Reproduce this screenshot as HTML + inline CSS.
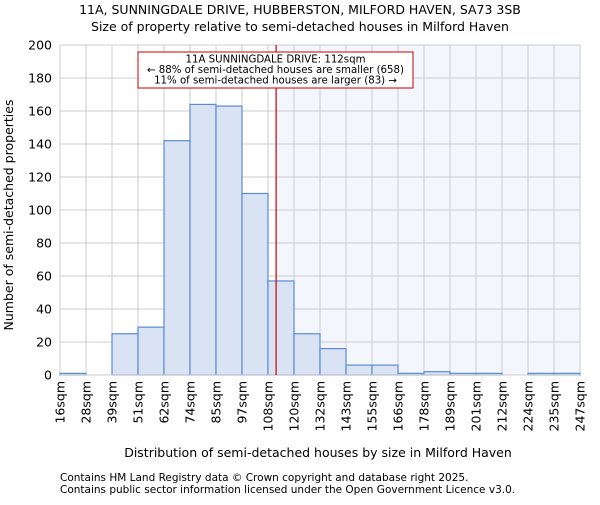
<!DOCTYPE html>
<html><head><meta charset="utf-8"><style>
body{margin:0;background:#fff;}
svg{font-family:"DejaVu Sans","Liberation Sans",sans-serif;}
</style></head><body>
<svg id="chart" width="600" height="500" xmlns="http://www.w3.org/2000/svg">
<text x="300" y="14" text-anchor="middle" font-size="12.5">11A, SUNNINGDALE DRIVE, HUBBERSTON, MILFORD HAVEN, SA73 3SB</text>
<text x="300" y="31" text-anchor="middle" font-size="12.5">Size of property relative to semi-detached houses in Milford Haven</text>
<g id="grid"></g><g id="bars"></g><g id="axes"></g>
<text x="318" y="457" text-anchor="middle" font-size="12.5">Distribution of semi-detached houses by size in Milford Haven</text>
<text transform="translate(13,215) rotate(-90)" text-anchor="middle" font-size="12.5">Number of semi-detached properties</text>
<text x="60" y="481" font-size="10.5">Contains HM Land Registry data © Crown copyright and database right 2025.</text>
<text x="60" y="493" font-size="10.5">Contains public sector information licensed under the Open Government Licence v3.0.</text>
</svg>
<script>
const categories=["16sqm","28sqm","39sqm","51sqm","62sqm","74sqm","85sqm","97sqm","108sqm","120sqm","132sqm","143sqm","155sqm","166sqm","178sqm","189sqm","201sqm","212sqm","224sqm","235sqm","247sqm"];
const counts=[1,0,25,29,142,164,163,110,57,25,16,6,6,1,2,1,1,0,1,1];
const yTicks=[0,20,40,60,80,100,120,140,160,180,200];
const binStart=16, binEnd=247, propertySize=112;
const NS="http://www.w3.org/2000/svg";
const L=60,R=580,T=45,B=375,yMax=200;
const n=counts.length, bw=(R-L)/n;
const xb=i=>L+i*bw;
const xv=v=>L+(v-binStart)/(binEnd-binStart)*(R-L);
const y=v=>B-v/yMax*(B-T);
function mk(tag,attrs,parent){const e=document.createElementNS(NS,tag);for(const k in attrs)e.setAttribute(k,attrs[k]);parent.appendChild(e);return e;}
const grid=document.getElementById('grid'),bars=document.getElementById('bars'),axes=document.getElementById('axes');
const px=xv(propertySize);
let sh=mk('rect',{x:px,y:T,width:R-px,height:B-T,fill:"#f3f6fd"},grid);


yTicks.forEach(t=>{
 let g=mk('line',{x1:L,x2:R,y1:y(t),y2:y(t),stroke:"#cccccc","stroke-width":1},grid);
 
 
 let tx=mk('text',{x:L-8,y:y(t)+4.5,"text-anchor":"end","font-size":"12.5"},axes);tx.textContent=t;
 
 
});
categories.forEach((c,i)=>{
 let g=mk('line',{x1:xb(i),x2:xb(i),y1:T,y2:B,stroke:"#cccccc","stroke-width":1},grid);
 
 
 let tx=mk('text',{transform:`translate(${xb(i)+4.5},${B+6}) rotate(-90)`,"text-anchor":"end","font-size":"12.5"},axes);tx.textContent=c;
 
 
});
counts.forEach((v,i)=>{
 if(v<=0)return;
 let r=mk('rect',{x:xb(i),y:y(v),width:bw,height:B-y(v),fill:"#dae3f3",stroke:"#5b8bd5","stroke-width":1.2},bars);
 
 
});
let ax=mk('line',{x1:L,x2:R,y1:B,y2:B,stroke:"#cccccc"},axes);


let rl=mk('line',{x1:px,x2:px,y1:T,y2:B,stroke:"#cc0000","stroke-width":1.2},axes);


let box=mk('rect',{x:138,y:52,width:275,height:36,fill:"#fff",stroke:"#cc0000","stroke-width":1},axes);


const lines=["11A SUNNINGDALE DRIVE: 112sqm","← 88% of semi-detached houses are smaller (658)","11% of semi-detached houses are larger (83) →"];
lines.forEach((s,i)=>{let t=mk('text',{x:275.5,y:62.5+i*10.5,"text-anchor":"middle","font-size":"10.2"},axes);t.textContent=s;
 
 });
</script>
</body></html>
